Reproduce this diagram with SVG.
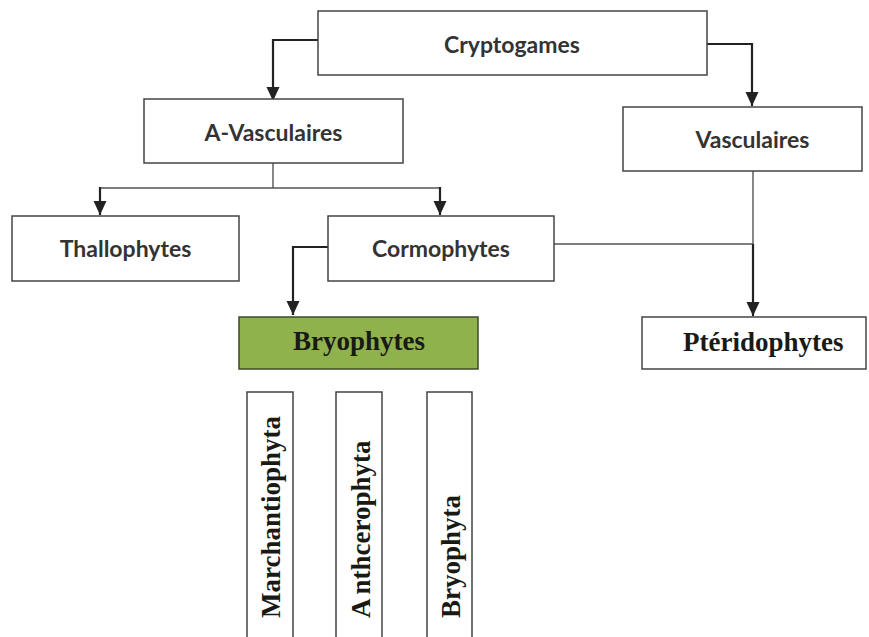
<svg xmlns="http://www.w3.org/2000/svg" width="869" height="637" viewBox="0 0 869 637">
<style>
.box{fill:#fff;stroke:#444;stroke-width:1.5}
.green{fill:#8fb24d;stroke:#3d4a2a;stroke-width:1.5}
.sans{font-family:Lato,"Open Sans","Liberation Sans",sans-serif;font-weight:700;font-size:23px;fill:#333;text-anchor:middle}
.serif{font-family:"Liberation Serif","Times New Roman",serif;font-weight:700;font-size:27px;fill:#1a1a14}
.ln{fill:none;stroke:#555;stroke-width:1.4}
.ar{fill:none;stroke:#222;stroke-width:2.2;marker-end:url(#ah)}
</style>
<defs>
<marker id="ah" markerUnits="userSpaceOnUse" markerWidth="16" markerHeight="16" viewBox="0 0 16 16" refX="14" refY="7" orient="auto">
<path d="M0,0.5 L14,7 L0,13.5 Z" fill="#222"/>
</marker>
</defs>
<rect width="869" height="637" fill="#fff"/>
<g id="connectors">
<path class="ar" d="M318,40 H273 V101"/>
<path class="ar" d="M707,44 H752 V106"/>
<path class="ln" d="M273,163 V188 M100,188 H440"/>
<path class="ar" d="M100,187 V215"/>
<path class="ar" d="M440,187 V215"/>
<path class="ar" d="M328,247 H293 V315"/>
<path class="ln" d="M753,171 V244 M554,244 H753"/>
<path class="ar" d="M753,244 V316"/>
</g>
<g id="cryptogames"><rect class="box" x="318" y="11" width="389" height="64"/><text class="sans" x="512" y="53">Cryptogames</text></g>
<g id="a-vasculaires"><rect class="box" x="144" y="99" width="259" height="64"/><text class="sans" x="273.5" y="141">A-Vasculaires</text></g>
<g id="vasculaires"><rect class="box" x="623" y="107" width="239" height="64"/><text class="sans" x="752.5" y="148">Vasculaires</text></g>
<g id="thallophytes"><rect class="box" x="12" y="216" width="227" height="65"/><text class="sans" x="125.5" y="257">Thallophytes</text></g>
<g id="cormophytes"><rect class="box" x="328" y="216" width="226" height="65"/><text class="sans" x="441" y="257">Cormophytes</text></g>
<g id="bryophytes"><rect class="green" x="239" y="317" width="239" height="52"/><text class="serif" x="293" y="350">Bryophytes</text></g>
<g id="pteridophytes"><rect class="box" x="642" y="317" width="224" height="52"/><text class="serif" x="683" y="351">Ptéridophytes</text></g>
<g id="marchantiophyta"><path class="box" d="M247,640 V392 H293 V640"/><text class="serif" transform="translate(280,618) rotate(-90)">Marchantiophyta</text></g>
<g id="anthcerophyta"><path class="box" d="M336,640 V392 H382 V640"/><text class="serif" transform="translate(370,618) rotate(-90)">A<tspan dx="4">nthcerophyta</tspan></text></g>
<g id="bryophyta"><path class="box" d="M427,640 V392 H472 V640"/><text class="serif" transform="translate(460,618) rotate(-90)">Bryophyta</text></g>
</svg>
